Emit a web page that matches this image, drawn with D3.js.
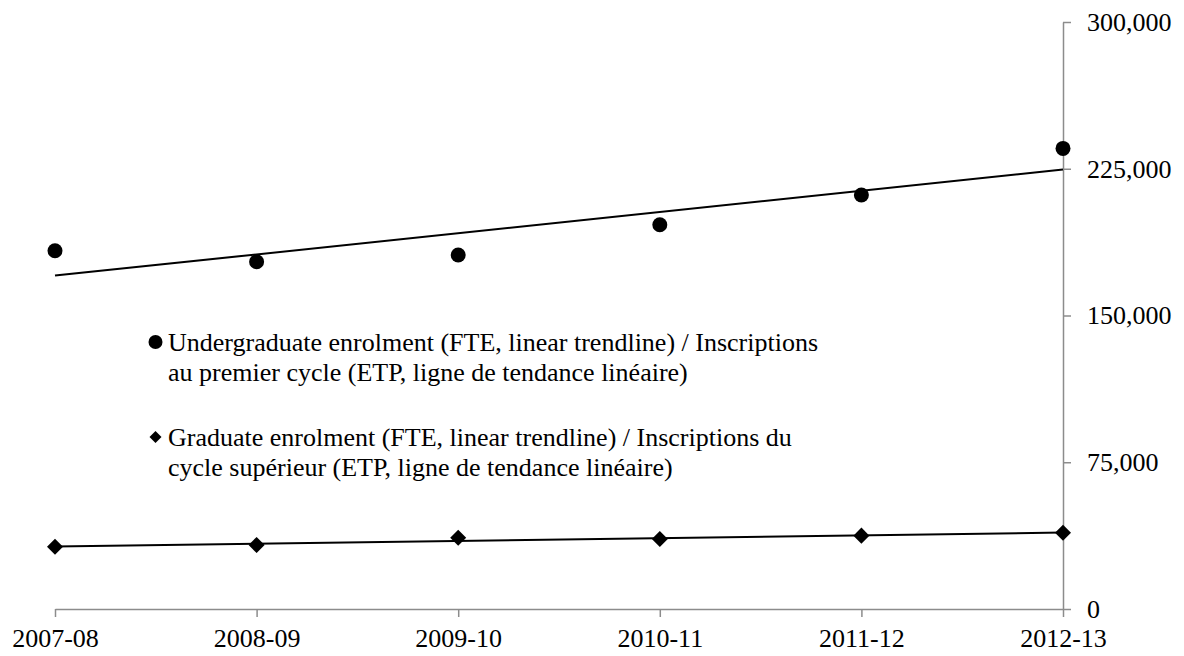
<!DOCTYPE html>
<html>
<head>
<meta charset="utf-8">
<script src="https://cdn.jsdelivr.net/npm/d3@7"></script>
<style>
  body { margin: 0; background: #fff; }
</style>
</head>
<body>
<div id="chart"></div>
<script>
// data
var years = ["2007-08", "2008-09", "2009-10", "2010-11", "2011-12", "2012-13"];
var undergrad = [183100, 177500, 180900, 196400, 211600, 235400];
var graduate = [31800, 32700, 36400, 35800, 37500, 39000];
var yTicks = [0, 75000, 150000, 225000, 300000];
var legendLines = [
  "Undergraduate enrolment (FTE, linear trendline) / Inscriptions",
  "au premier cycle (ETP, ligne de tendance linéaire)",
  "Graduate enrolment (FTE, linear trendline) / Inscriptions du",
  "cycle supérieur (ETP, ligne de tendance linéaire)"
];

var svgWidth = 1184;
var svgHeight = 656;
var fontFam = "'Times New Roman', 'Liberation Serif', Tinos, serif";
var fontSize = "26px";

var svg = d3.select("#chart")
  .append("svg")
  .attr("width", svgWidth)
  .attr("height", svgHeight);

var xScale = d3.scalePoint()
  .domain(years)
  .range([55, 1063]);

var yScale = d3.scaleLinear()
  .domain([0, 300000])
  .range([609, 22]);

var axisColor = "#8c8c8c";

// x axis
var xAxis = svg.append("g")
  .attr("transform", "translate(0,609)")
  .call(d3.axisBottom(xScale).tickSize(8).tickPadding(12).tickSizeOuter(0));
xAxis.attr("font-family", fontFam).attr("font-size", fontSize);
xAxis.select(".domain").attr("stroke", axisColor).attr("stroke-width", 1.5);
xAxis.selectAll(".tick line").attr("stroke", axisColor).attr("stroke-width", 1.5);
xAxis.selectAll("text").attr("fill", "#000");

// y axis on the right
var yAxis = svg.append("g")
  .attr("transform", "translate(1063,0)")
  .call(d3.axisRight(yScale).tickValues(yTicks).tickSize(8).tickPadding(16).tickSizeOuter(0)
    .tickFormat(d3.format(",")));
yAxis.attr("font-family", fontFam).attr("font-size", fontSize);
yAxis.select(".domain").attr("stroke", axisColor).attr("stroke-width", 1.5);
yAxis.selectAll(".tick line").attr("stroke", axisColor).attr("stroke-width", 1.5);
yAxis.selectAll("text").attr("fill", "#000");

// linear trendline (least squares on index)
function trend(values) {
  var n = values.length;
  var mx = d3.mean(values, (d, i) => i);
  var my = d3.mean(values);
  var num = d3.sum(values, (d, i) => (i - mx) * (d - my));
  var den = d3.sum(values, (d, i) => (i - mx) * (i - mx));
  var b = num / den;
  var a = my - b * mx;
  return [a, a + b * (n - 1)];
}

function drawTrend(values) {
  var t = trend(values);
  svg.append("line")
    .attr("x1", xScale(years[0]))
    .attr("y1", yScale(t[0]))
    .attr("x2", xScale(years[years.length - 1]))
    .attr("y2", yScale(t[1]))
    .attr("stroke", "#000")
    .attr("stroke-width", 2);
}

drawTrend(undergrad);
drawTrend(graduate);

// undergrad points
svg.selectAll("circle.ug")
  .data(undergrad)
  .enter()
  .append("circle")
  .attr("class", "ug")
  .attr("cx", (d, i) => xScale(years[i]))
  .attr("cy", d => yScale(d))
  .attr("r", 7.5)
  .attr("fill", "#000");

// graduate points (square turned 45deg = diamond)
svg.selectAll("path.gr")
  .data(graduate)
  .enter()
  .append("path")
  .attr("class", "gr")
  .attr("d", d3.symbol().type(d3.symbolSquare).size(128))
  .attr("transform", (d, i) => `translate(${xScale(years[i])},${yScale(d)}) rotate(45)`)
  .attr("fill", "#000");

// legend
var legend = svg.append("g")
  .attr("font-family", fontFam)
  .attr("font-size", fontSize);

legend.append("circle")
  .attr("cx", 155.5)
  .attr("cy", 342)
  .attr("r", 7)
  .attr("fill", "#000");

legend.append("path")
  .attr("d", d3.symbol().type(d3.symbolSquare).size(72))
  .attr("transform", "translate(155.5,437) rotate(45)")
  .attr("fill", "#000");

var legendY = [351, 381, 446, 476];

legend.selectAll("text")
  .data(legendLines)
  .enter()
  .append("text")
  .attr("x", 168)
  .attr("y", (d, i) => legendY[i])
  .text(d => d);
</script>
</body>
</html>
